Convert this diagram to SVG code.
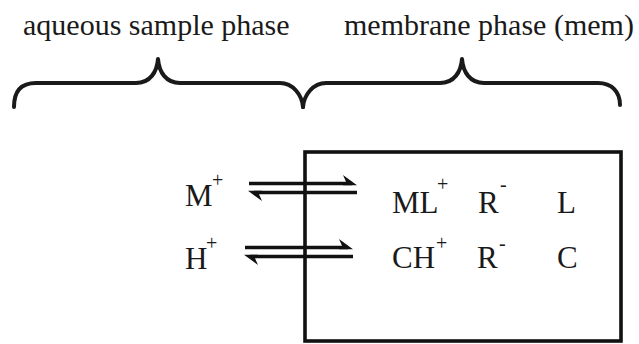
<svg xmlns="http://www.w3.org/2000/svg" width="639" height="344" viewBox="0 0 639 344">
<style>
.t{font-family:"Liberation Serif","Times New Roman",serif;fill:#1a1a1a}
.h{font-size:30px}
.s{font-size:31px}
.sup{font-size:20px}
.br{fill:none;stroke:#1a1a1a;stroke-width:4;stroke-linecap:round;stroke-linejoin:round}
.ln{stroke:#111;stroke-width:3.4;fill:none}
.hd{fill:#111}
</style>
<rect width="639" height="344" fill="#fff"/>
<g id="labels">
<text class="t h" x="23" y="35">aqueous sample phase</text>
<text class="t h" x="344" y="35">membrane phase (mem)</text>
</g>
<g id="braces">
<path class="br" d="M14,107 C14,92 20,83 36,83 L136,83 C150,83 157,72 158,59 C159,72 166,83 180,83 L280,83 C293,83 302,95 303,107"/>
<path class="br" d="M303,107 C304,95 313,83 326,83 L440,83 C454,83 461,72 462,59 C463,72 470,83 484,83 L598,83 C612,83 620,92 620,105"/>
</g>
<g id="membrane">
<rect x="305" y="152" width="316" height="189" fill="none" stroke="#111" stroke-width="3.6"/>
</g>
<g id="aq-M"><text class="t s" x="185" y="206">M</text><text class="t sup" x="212" y="187">+</text></g>
<g id="aq-H"><text class="t s" x="185" y="269">H</text><text class="t sup" x="206" y="250">+</text></g>
<g id="mem-ML"><text class="t s" x="392" y="213">ML</text><text class="t sup" x="437" y="191">+</text></g>
<g id="mem-R1"><text class="t s" x="478" y="213">R</text><text class="t sup" x="500" y="191">-</text></g>
<g id="mem-L"><text class="t s" x="557" y="213">L</text></g>
<g id="mem-CH"><text class="t s" x="392" y="268">CH</text><text class="t sup" x="436" y="250">+</text></g>
<g id="mem-R2"><text class="t s" x="477" y="268">R</text><text class="t sup" x="499" y="250">-</text></g>
<g id="mem-C"><text class="t s" x="557" y="268">C</text></g>
<g id="connectors">
<line class="ln" x1="249" y1="183.5" x2="352" y2="183.5"/>
<path class="hd" d="M357,185.2 L343,175 L346,181.8 L343,185.2 Z"/>
<line class="ln" x1="254" y1="192.5" x2="357" y2="192.5"/>
<path class="hd" d="M248,190.8 L262,201 L259,194.2 L262,190.8 Z"/>
<line class="ln" x1="245" y1="247.5" x2="348" y2="247.5"/>
<path class="hd" d="M353,249.2 L339,239 L342,245.8 L339,249.2 Z"/>
<line class="ln" x1="250" y1="256.5" x2="353" y2="256.5"/>
<path class="hd" d="M244,254.8 L258,265 L255,258.2 L258,254.8 Z"/>
</g>
</svg>
